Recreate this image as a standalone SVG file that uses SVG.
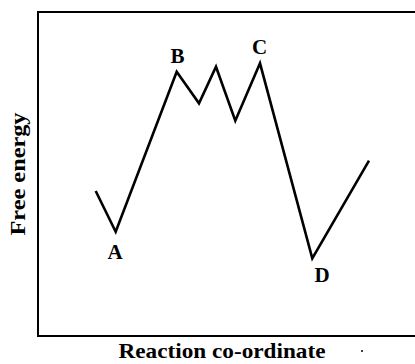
<svg xmlns="http://www.w3.org/2000/svg" width="415" height="364" viewBox="0 0 415 364">
<style>
.ax{fill:none;stroke:#000;stroke-width:2}
.cv{fill:none;stroke:#000;stroke-width:2.6;stroke-linejoin:miter;stroke-linecap:butt}
.lb{font-family:"Liberation Serif","Times New Roman",serif;font-weight:bold;font-size:21px;fill:#000;text-anchor:middle}
.tt{font-family:"Liberation Serif","Times New Roman",serif;font-weight:bold;font-size:21px;fill:#000;text-anchor:middle}
</style>
<rect width="415" height="364" fill="#fff"/>
<g id="axes">
<path class="ax" d="M415,12 H38 V336 H415"/>
</g>
<g id="connectors">
<path class="cv" d="M95.7,191 L115.7,231.7 L176.7,71.7 L199,103.3 L216,66.7 L235.3,120.7 L260,63.3 L312.3,258.3 L369,160.7"/>
</g>
<g id="labels">
<text class="lb" x="115" y="258.5">A</text>
<text class="lb" x="177.5" y="63">B</text>
<text class="lb" x="259.5" y="54">C</text>
<text class="lb" x="322" y="282">D</text>
</g>
<text class="tt" x="222" y="358" textLength="207" lengthAdjust="spacingAndGlyphs">Reaction co-ordinate</text>
<text class="tt" transform="translate(25,174) rotate(-90)" x="0" y="0" textLength="123" lengthAdjust="spacingAndGlyphs">Free energy</text>
<circle cx="362" cy="351" r="1" fill="#000"/>
</svg>
